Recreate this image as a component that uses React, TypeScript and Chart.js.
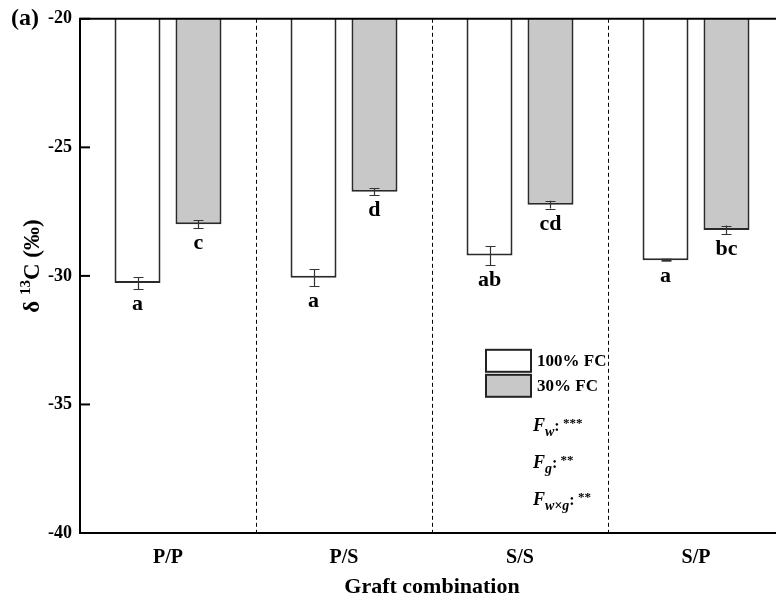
import React, { useEffect, useRef } from 'react';
import { Chart, registerables } from 'chart.js';

Chart.register(...registerables);

const categories = ['P/P', 'P/S', 'S/S', 'S/P'];
const seriesNames = ['100% FC', '30% FC'];
const fc100 = [-30.28, -30.07, -29.21, -29.39];
const fc100Err = [0.23, 0.32, 0.37, 0.03];
const fc30 = [-27.99, -26.73, -27.23, -28.21];
const fc30Err = [0.16, 0.13, 0.15, 0.17];
const letters100 = ['a', 'a', 'ab', 'a'];
const letters30 = ['c', 'd', 'cd', 'bc'];
const yMin = -40;
const yMax = -20;
const yStep = 5;

const FONT = "'Liberation Serif', 'Times New Roman', serif";

type Run = { t: string; font: string; dy?: number; dx?: number };

function drawRuns(ctx: CanvasRenderingContext2D, x: number, y: number, runs: Run[]) {
  let cx = x;
  for (const r of runs) {
    ctx.font = r.font;
    cx += r.dx || 0;
    ctx.fillText(r.t, cx, y + (r.dy || 0));
    cx += ctx.measureText(r.t).width;
  }
}

function runsWidth(ctx: CanvasRenderingContext2D, runs: Run[]) {
  let w = 0;
  for (const r of runs) {
    ctx.font = r.font;
    w += ctx.measureText(r.t).width + (r.dx || 0);
  }
  return w;
}

const annotPlugin = {
  id: 'annot',
  beforeDatasetsDraw(chart: any) {
    const { ctx, chartArea: ca, scales } = chart;
    const x = scales.x;
    ctx.save();
    ctx.strokeStyle = '#000';
    ctx.lineWidth = 1;
    ctx.setLineDash([4, 3]);
    for (let i = 0; i < categories.length - 1; i++) {
      const px = Math.round((x.getPixelForTick(i) + x.getPixelForTick(i + 1)) / 2) + 0.5;
      ctx.beginPath();
      ctx.moveTo(px, ca.top);
      ctx.lineTo(px, ca.bottom);
      ctx.stroke();
    }
    ctx.restore();
  },
  afterDatasetsDraw(chart: any) {
    const { ctx, scales } = chart;
    const y = scales.y;
    ctx.save();
    chart.data.datasets.forEach((ds: any, di: number) => {
      const meta = chart.getDatasetMeta(di);
      meta.data.forEach((bar: any, i: number) => {
        const v = ds.data[i];
        const e = ds.errors[i];
        const yTop = y.getPixelForValue(v + e);
        const yBot = y.getPixelForValue(v - e);
        const bx = Math.round(bar.x) + 0.5;
        ctx.strokeStyle = '#333';
        ctx.lineWidth = e < 0.06 ? 3 : 1.2;
        ctx.beginPath();
        if (e < 0.06) {
          ctx.moveTo(bx - 5, y.getPixelForValue(v));
          ctx.lineTo(bx + 5, y.getPixelForValue(v));
        } else {
          ctx.moveTo(bx, yTop);
          ctx.lineTo(bx, yBot);
          ctx.moveTo(bx - 5, Math.round(yTop) + 0.5);
          ctx.lineTo(bx + 5, Math.round(yTop) + 0.5);
          ctx.moveTo(bx - 5, Math.round(yBot) + 0.5);
          ctx.lineTo(bx + 5, Math.round(yBot) + 0.5);
        }
        ctx.stroke();
        ctx.fillStyle = '#000';
        ctx.font = `bold 22px ${FONT}`;
        ctx.textAlign = 'center';
        ctx.textBaseline = 'alphabetic';
        ctx.fillText(ds.letters[i], bar.x, yBot + 21);
      });
    });
    ctx.restore();
  },
  afterDraw(chart: any) {
    const { ctx, chartArea: ca, scales } = chart;
    const y = scales.y;
    ctx.save();
    // top frame line
    ctx.strokeStyle = '#000';
    ctx.lineWidth = 2;
    ctx.beginPath();
    ctx.moveTo(ca.left - 1, ca.top);
    ctx.lineTo(ca.right, ca.top);
    ctx.stroke();
    // inward y ticks
    y.ticks.forEach((t: any) => {
      const py = y.getPixelForValue(t.value);
      ctx.beginPath();
      ctx.moveTo(ca.left, py);
      ctx.lineTo(ca.left + 10, py);
      ctx.stroke();
    });

    ctx.fillStyle = '#000';
    ctx.textAlign = 'left';
    ctx.textBaseline = 'alphabetic';

    // panel label
    ctx.font = `bold 24px ${FONT}`;
    ctx.fillText('(a)', 11, 25);

    // y title with superscript
    const tRuns: Run[] = [
      { t: 'δ ', font: `bold 23px ${FONT}` },
      { t: '13', font: `bold 15px ${FONT}`, dy: -9 },
      { t: 'C (‰)', font: `bold 23px ${FONT}` },
    ];
    const tw = runsWidth(ctx, tRuns);
    ctx.save();
    ctx.translate(39, 266);
    ctx.rotate(-Math.PI / 2);
    drawRuns(ctx, -tw / 2, 0, tRuns);
    ctx.restore();

    // legend
    const lx = ca.left + 406;
    const ly = ca.top + 331;
    chart.data.datasets.forEach((ds: any, i: number) => {
      const by = ly + i * 25;
      ctx.fillStyle = ds.backgroundColor;
      ctx.fillRect(lx, by, 45, 22);
      ctx.strokeStyle = '#222';
      ctx.lineWidth = 2;
      ctx.strokeRect(lx, by, 45, 22);
      ctx.fillStyle = '#000';
      ctx.font = `bold 17px ${FONT}`;
      ctx.textBaseline = 'middle';
      ctx.fillText(ds.label, lx + 51, by + 12);
    });
    ctx.textBaseline = 'alphabetic';

    // significance annotations
    const fx = ca.left + 453;
    const FB = `italic bold 18px ${FONT}`;
    const SB = `italic bold 14px ${FONT}`;
    const CB = `bold 16px ${FONT}`;
    const ST = `bold 13px ${FONT}`;
    drawRuns(ctx, fx, ca.top + 412, [
      { t: 'F', font: FB },
      { t: 'w', font: SB, dy: 5 },
      { t: ':', font: CB },
      { t: ' ***', font: ST, dy: -4 },
    ]);
    drawRuns(ctx, fx, ca.top + 449, [
      { t: 'F', font: FB },
      { t: 'g', font: SB, dy: 5 },
      { t: ':', font: CB },
      { t: ' **', font: ST, dy: -4 },
    ]);
    drawRuns(ctx, fx, ca.top + 486, [
      { t: 'F', font: FB },
      { t: 'w×g', font: SB, dy: 5 },
      { t: ':', font: CB },
      { t: ' **', font: ST, dy: -4 },
    ]);
    ctx.restore();
  },
};

export default function App() {
  const ref = useRef<HTMLCanvasElement | null>(null);
  useEffect(() => {
    if (!ref.current) return;
    const chart = new Chart(ref.current, {
      type: 'bar',
      data: {
        labels: categories,
        datasets: [
          {
            label: seriesNames[0],
            data: fc100,
            errors: fc100Err,
            letters: letters100,
            backgroundColor: '#ffffff',
            borderColor: '#2a2a2a',
            borderWidth: 2,
            borderSkipped: false,
            categoryPercentage: 0.693,
            barPercentage: 0.754,
          } as any,
          {
            label: seriesNames[1],
            data: fc30,
            errors: fc30Err,
            letters: letters30,
            backgroundColor: '#c8c8c8',
            borderColor: '#2a2a2a',
            borderWidth: 2,
            borderSkipped: false,
            categoryPercentage: 0.693,
            barPercentage: 0.754,
          } as any,
        ],
      },
      options: {
        responsive: false,
        animation: false,
        devicePixelRatio: 1,
        layout: { padding: { top: 16, right: 16, left: 0, bottom: 0 } },
        plugins: { legend: { display: false }, tooltip: { enabled: false } },
        scales: {
          x: {
            grid: { display: false, drawTicks: false },
            border: { display: true, color: '#000', width: 2 },
            ticks: { font: { family: FONT, size: 20, weight: 'bold' }, color: '#000', padding: 13 },
            title: {
              display: true,
              text: 'Graft combination',
              font: { family: FONT, size: 22, weight: 'bold' },
              color: '#000',
              padding: { top: 0, bottom: 5 },
            },
            afterFit(s: any) {
              s.height = 73;
            },
          },
          y: {
            min: yMin,
            max: yMax,
            ticks: {
              stepSize: yStep,
              font: { family: FONT, size: 18, weight: 'bold' },
              color: '#000',
              padding: 8,
              callback: (v: any) => String(v),
            },
            grid: { display: false, drawTicks: false },
            border: { display: true, color: '#000', width: 2 },
            afterFit(s: any) {
              s.width = 80;
            },
          },
        },
      } as any,
      plugins: [annotPlugin],
    });
    return () => chart.destroy();
  }, []);
  return (
    <div
      style={{
        position: 'fixed',
        left: 0,
        top: 0,
        width: 776,
        height: 606,
        overflow: 'hidden',
        background: '#fff',
      }}
    >
      <canvas ref={ref} width={800} height={606} style={{ display: 'block' }} />
    </div>
  );
}
